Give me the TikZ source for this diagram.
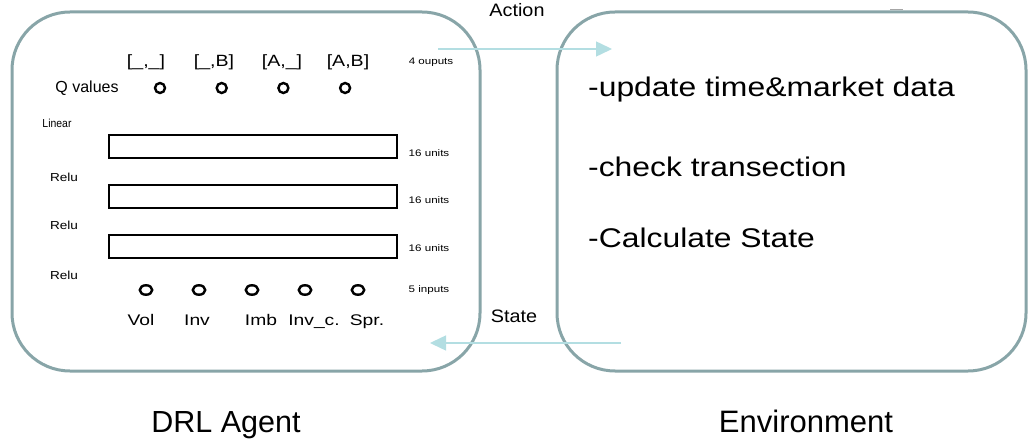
\documentclass[tikz,border=0pt]{standalone}
\usepackage{fontspec}
\setmainfont{Liberation Sans}
\usetikzlibrary{arrows.meta,positioning,shapes.geometric}

\definecolor{frame}{HTML}{88A5A8}
\definecolor{flowc}{HTML}{B3DEE2}
\newcommand{\wide}[2][1.2]{\scalebox{#1}[1]{#2}}
\newcommand{\fs}[1]{\fontsize{#1}{#1}\selectfont}

\begin{document}
\begin{tikzpicture}[x=1pt,y=-1pt,
		box/.style={draw=frame, line width=3pt, rounded corners=58pt,
			minimum width=468pt, minimum height=359pt, inner sep=0pt},
		layer/.style={draw, line width=1.2pt, minimum width=288pt,
			minimum height=23pt, inner sep=0pt},
		unit/.style={circle, draw, line width=2.4pt, minimum size=10pt, inner sep=0pt},
		inunit/.style={ellipse, draw, line width=2.4pt, minimum width=12.5pt,
			minimum height=9.5pt, inner sep=0pt},
		flow/.style={draw=flowc, line width=1.5pt, -{Triangle[length=16pt,width=15pt]}},
		lbl/.style={anchor=base, inner sep=0pt}]

		\useasboundingbox (0,0) rectangle (1028,446);

		% the two blocks
		\node[box] (Agent) at (246,191.5) {};
		\node[box, minimum width=469pt] (Env) at (791.5,191.5) {};
		\draw[gray!70, line width=0.6pt] (890,9) -- (903,9);

		% output layer
		\node[lbl, font=\fs{16.3}] (A1) at (146,67) {\wide{[\_,\_]}};
		\node[lbl, font=\fs{16.3}] (A2) at (214,67) {\wide{[\_,B]}};
		\node[lbl, font=\fs{16.3}] (A3) at (282,67) {\wide{[A,\_]}};
		\node[lbl, font=\fs{16.3}] (A4) at (348,67) {\wide{[A,B]}};
		\node[lbl, font=\fs{9.5}] (NOut) at (431,65) {\wide[1.22]{4 ouputs}};
		\node[lbl, font=\fs{16}] (QLab) at (87,93) {Q values};
		\node[unit] (Q1) at (160,88) {};
		\node[unit, on grid, right=61.7pt of Q1] (Q2) {};
		\node[unit, on grid, right=61.7pt of Q2] (Q3) {};
		\node[unit, on grid, right=61.7pt of Q3] (Q4) {};

		% hidden layers
		\node[lbl, font=\fs{11.6}] (Lin) at (57,128) {\wide[0.9]{Linear}};
		\node[layer] (L1) at (253,146.5) {};
		\node[layer, on grid, below=50pt of L1] (L2) {};
		\node[layer, on grid, below=50pt of L2] (L3) {};
		\node[lbl, font=\fs{9.5}] (U1) at (429,157) {\wide[1.22]{16 units}};
		\node[lbl, font=\fs{9.5}] (U2) at (429,204) {\wide[1.22]{16 units}};
		\node[lbl, font=\fs{9.5}] (U3) at (429,252) {\wide[1.22]{16 units}};
		\node[lbl, font=\fs{11.6}] (R1) at (64,182) {\wide[1.17]{Relu}};
		\node[lbl, font=\fs{11.6}] (R2) at (64,230) {\wide[1.17]{Relu}};
		\node[lbl, font=\fs{11.6}] (R3) at (64,280) {\wide[1.17]{Relu}};

		% input layer
		\node[inunit] (I1) at (146,290) {};
		\node[inunit, on grid, right=53pt of I1] (I2) {};
		\node[inunit, on grid, right=53pt of I2] (I3) {};
		\node[inunit, on grid, right=53pt of I3] (I4) {};
		\node[inunit, on grid, right=53pt of I4] (I5) {};
		\node[lbl, font=\fs{9.5}] (NIn) at (429,293) {\wide[1.22]{5 inputs}};
		\node[lbl, font=\fs{15.4}] (Vol) at (141,326) {\wide[1.25]{Vol}};
		\node[lbl, font=\fs{15.4}] (Inv) at (197,326) {\wide[1.25]{Inv}};
		\node[lbl, font=\fs{15.4}] (Imb) at (261,326) {\wide[1.25]{Imb}};
		\node[lbl, font=\fs{15.4}] (InvC) at (314,326) {\wide[1.25]{Inv\_c.}};
		\node[lbl, font=\fs{15.4}] (Spr) at (367,326) {\wide[1.25]{Spr.}};

		% environment steps
		\node[lbl, anchor=base west, font=\fs{27}] (E1) at (588,97) {\wide[1.18]{-update time\&market data}};
		\node[lbl, anchor=base west, font=\fs{27}] (E2) at (588,177) {\wide[1.18]{-check transection}};
		\node[lbl, anchor=base west, font=\fs{27}] (E3) at (588,248) {\wide[1.18]{-Calculate State}};

		% action / state
		\coordinate (act0) at (438,49);
		\coordinate (act1) at (612,49);
		\coordinate (st0) at (621,343);
		\coordinate (st1) at (430,343);
		\draw[flow] (act0) -- (act1);
		\draw[flow] (st0) -- (st1);
		\node[lbl, font=\fs{18}] (Act) at (517,17) {\wide[1.1]{Action}};
		\node[lbl, font=\fs{18}] (St) at (514,323) {\wide[1.1]{State}};

		% titles
		\node[lbl, font=\fs{30.5}] (TAgent) at (226,432) {DRL Agent};
		\node[lbl, font=\fs{31}] (TEnv) at (806,432) {Environment};
	\end{tikzpicture}
\end{document}
